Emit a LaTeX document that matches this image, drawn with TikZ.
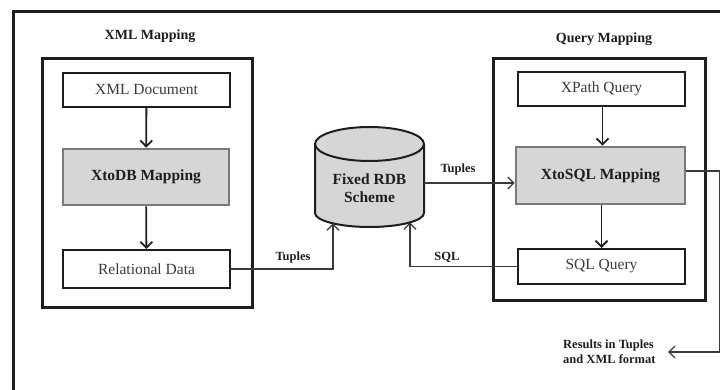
\documentclass[tikz,border=0pt]{standalone}
\usepackage{fontspec}
\setmainfont{Liberation Serif}
\usetikzlibrary{arrows.meta,calc}
\definecolor{boxgray}{HTML}{D6D6D6}
\definecolor{edgegray}{HTML}{7A7A7A}
\definecolor{ink}{HTML}{1E1E1E}
\definecolor{softink}{HTML}{3A3A3A}
\tikzset{
  frame/.style={draw=ink, line width=3pt},
  group/.style={draw=ink, line width=3pt, rectangle, inner sep=0pt},
  plainbox/.style={draw=ink, line width=2pt, fill=white, rectangle, inner sep=0pt,
    text=softink, font=\fontsize{15.5}{18}\selectfont},
  graybox/.style={draw=edgegray, line width=2.6pt, fill=boxgray, rectangle, inner sep=0pt,
    text=ink, font=\fontsize{15.5}{18}\selectfont\bfseries},
  header/.style={text=ink, font=\fontsize{14}{16}\selectfont\bfseries},
  lbl/.style={text=ink, font=\fontsize{12.5}{15}\selectfont\bfseries, inner sep=0pt},
  flow/.style={draw=ink, line width=1.8pt, -{Straight Barb[length=6pt,width=12pt,line width=1.8pt]}},
  conn/.style={draw=softink, line width=1.3pt, -{Straight Barb[length=6pt,width=12pt,line width=1.3pt]}},
  dbtext/.style={text=ink, font=\fontsize{15.5}{18}\selectfont\bfseries, align=center}
}
\begin{document}
\begin{tikzpicture}[x=1pt,y=-1pt]
  \useasboundingbox (0,0) rectangle (720,390);
  \clip (0,0) rectangle (720,390);
  \fill[white] (0,0) rectangle (720,390);

  % outer frame (runs past the right and bottom edges)
  \draw[frame] (13,420) -- (13,12) -- (740,12);

  % group headers
  \node[header] (xmlhead) at (150,36) {XML Mapping};
  \node[header] (qhead) at (604,39) {Query Mapping};

  % XML mapping group
  \node[group, minimum width=210, minimum height=248] (xmlgrp) at (147,183) {};
  \node[plainbox, minimum width=167, minimum height=34] (xmldoc) at (146.5,90) {XML Document};
  \node[graybox, minimum width=166, minimum height=56] (xtodb) at (146,177) {XtoDB Mapping};
  \node[plainbox, minimum width=167, minimum height=38] (reldata) at (146.5,269) {Relational Data};

  % query mapping group
  \node[group, minimum width=212, minimum height=241] (qgrp) at (599,179.5) {};
  \node[plainbox, minimum width=167, minimum height=34] (xpath) at (601.5,89) {XPath Query};
  \node[graybox, minimum width=169, minimum height=57] (xtosql) at (600.5,175.5) {XtoSQL Mapping};
  \node[plainbox, minimum width=167, minimum height=35] (sqlq) at (601.5,266.5) {SQL Query};

  % database cylinder (y axis points down, so arc angles are mirrored)
  \filldraw[fill=boxgray, draw=ink, line width=2pt]
    (315,144) -- (315,213) arc[start angle=180, end angle=0, x radius=54.5, y radius=14]
    -- (424,144) arc[start angle=0, end angle=-180, x radius=54.5, y radius=17] -- cycle;
  \draw[draw=ink, line width=2pt] (315,144) arc[start angle=180, end angle=0, x radius=54.5, y radius=17];
  \node[minimum width=109, minimum height=100, inner sep=0pt] (db) at (369.5,177) {};
  \node[dbtext] (dblabel) at (369.5,188) {Fixed RDB\\Scheme};
  \coordinate (dbinL) at (333,223.4);
  \coordinate (dbinR) at (410,222.4);

  % results
  \node[lbl, align=left, anchor=north west] (res) at (563,340) {Results in Tuples\\and XML format};
  \coordinate (resin) at (668,352);

  % flows inside the groups
  \draw[flow] (xmldoc) -- (xtodb);
  \draw[flow] (xtodb) -- (reldata);
  \draw[flow] ([xshift=1pt]xpath.south) -- ([xshift=1pt]xpath.south |- xtosql.north);
  \draw[flow] ([xshift=1pt]xtosql.south) -- ([xshift=1pt]xtosql.south |- sqlq.north);

  % connectors between the groups and the database
  \draw[conn] (reldata.east) -| (dbinL);
  \node[lbl] (tup1) at (293,257) {Tuples};
  \draw[conn] (sqlq.west) -| (dbinR);
  \node[lbl] (sqllbl) at (447,257) {SQL};
  \draw[conn] ([yshift=-6pt]db.east) -- ([yshift=-6pt]db.east -| xtosql.west);
  \node[lbl] (tup2) at (458,169) {Tuples};
  \draw[conn] ([yshift=4.5pt]xtosql.east) -- ++(33,0) |- (resin);
\end{tikzpicture}
\end{document}
